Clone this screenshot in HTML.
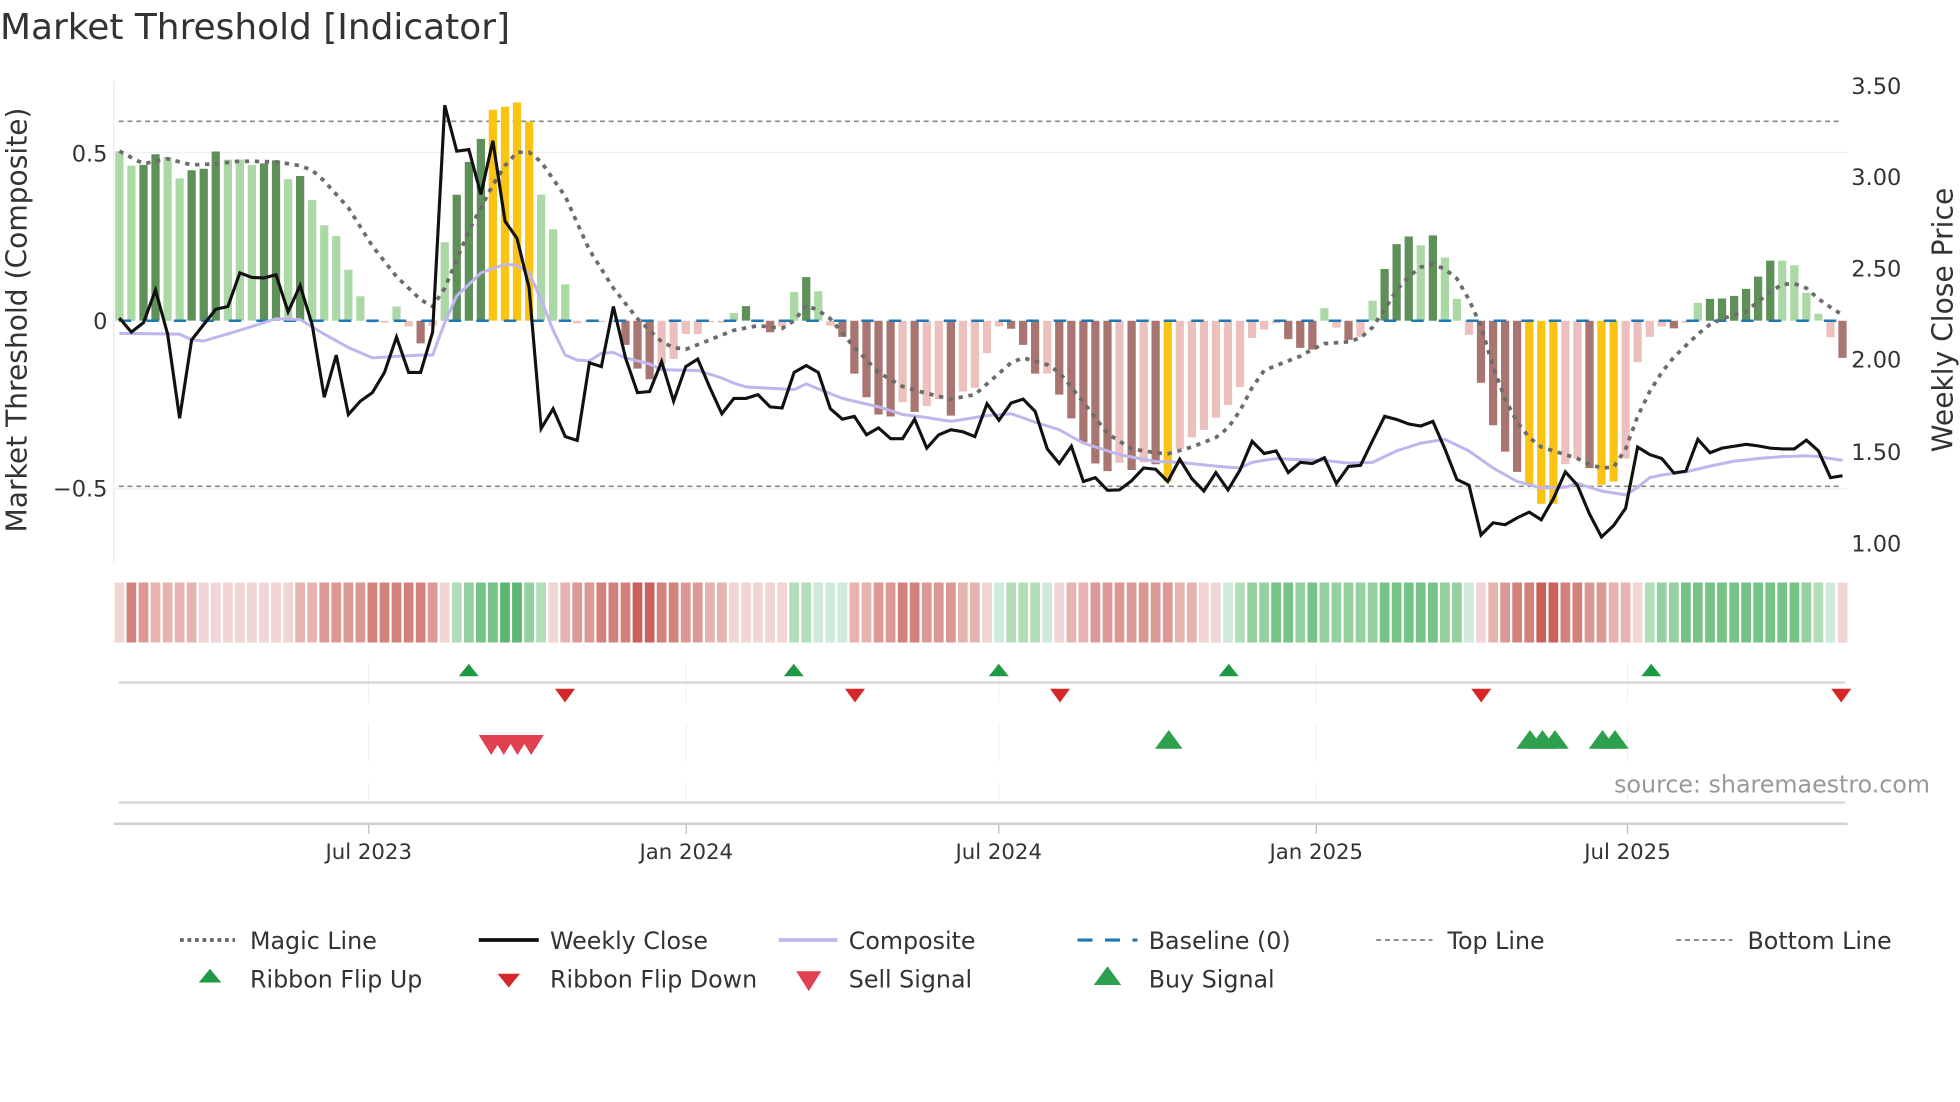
<!DOCTYPE html>
<html><head><meta charset="utf-8">
<style>
html,body{margin:0;padding:0;background:#fff;width:1960px;height:1102px;overflow:hidden}
svg{display:block}
text{font-family:"DejaVu Sans","Liberation Sans",sans-serif;fill:#333}
</style></head>
<body>
<svg id="s" width="1960" height="1102" viewBox="0 0 1568 881.6" xmlns="http://www.w3.org/2000/svg">
<rect width="1568" height="881.6" fill="#fff"/>
<text x="0" y="31" font-size="28.5" textLength="408" lengthAdjust="spacingAndGlyphs">Market Threshold [Indicator]</text>
<g id="g"></g>
<text x="86" y="129" font-size="18" text-anchor="end">0.5</text>
<text x="86" y="263" font-size="18" text-anchor="end">0</text>
<text x="86" y="397" font-size="18" text-anchor="end">−0.5</text>
<text transform="translate(21,256) rotate(-90)" font-size="22.5" text-anchor="middle">Market Threshold (Composite)</text>
<text x="1481" y="75" font-size="18">3.50</text>
<text x="1481" y="148" font-size="18">3.00</text>
<text x="1481" y="221" font-size="18">2.50</text>
<text x="1481" y="294" font-size="18">2.00</text>
<text x="1481" y="368" font-size="18">1.50</text>
<text x="1481" y="441" font-size="18">1.00</text>
<text transform="translate(1562,256) rotate(-90)" font-size="22.5" text-anchor="middle">Weekly Close Price</text>
<g font-size="17" text-anchor="middle">
<text x="295" y="687">Jul 2023</text>
<text x="549" y="687">Jan 2024</text>
<text x="799" y="687">Jul 2024</text>
<text x="1053" y="687">Jan 2025</text>
<text x="1302" y="687">Jul 2025</text>
</g>
<text x="1544" y="634" font-size="19" text-anchor="end" style="fill:#999">source: sharemaestro.com</text>
<g font-size="19">
<line x1="144" y1="752" x2="188" y2="752" stroke="#666" stroke-width="3" stroke-dasharray="3,3"/>
<text x="200" y="759">Magic Line</text>
<line x1="383" y1="752" x2="431" y2="752" stroke="#111" stroke-width="3"/>
<text x="440" y="759">Weekly Close</text>
<line x1="623" y1="752" x2="670" y2="752" stroke="#c0b8ee" stroke-width="3"/>
<text x="679" y="759">Composite</text>
<line x1="862" y1="752" x2="910" y2="752" stroke="#1f77b4" stroke-width="2.5" stroke-dasharray="12,10"/>
<text x="919" y="759">Baseline (0)</text>
<line x1="1101" y1="752" x2="1146" y2="752" stroke="#888" stroke-width="1.5" stroke-dasharray="4,3"/>
<text x="1158" y="759">Top Line</text>
<line x1="1341" y1="752" x2="1386" y2="752" stroke="#888" stroke-width="1.5" stroke-dasharray="4,3"/>
<text x="1398" y="759">Bottom Line</text>
<polygon points="168,775 159,786 177,786" fill="#1e9a45"/>
<text x="200" y="790">Ribbon Flip Up</text>
<polygon points="398,779 416,779 407,790" fill="#d62728"/>
<text x="440" y="790">Ribbon Flip Down</text>
<polygon points="637,777 657,777 647,793" fill="#e04050"/>
<text x="679" y="790">Sell Signal</text>
<polygon points="886,773 875,788 897,788" fill="#2ca04c"/>
<text x="919" y="790">Buy Signal</text>
</g>
</svg>
<script>
(function(){
var N=144, X0=95.5, DX=9.64;
function xk(k){return X0+k*DX;}
function yz(z){return 56+z*0.3062;}
var bars=[[212,'LG'],[250,'LG'],[248,'DG'],[220,'DG'],[228,'LG'],[283,'LG'],[262,'DG'],[258,'DG'],[213,'DG'],[234,'LG'],[234,'LG'],[248,'LG'],[244,'DG'],[236,'DG'],[285,'LG'],[277,'DG'],[340,'LG'],[406,'LG'],[434,'LG'],[522,'LG'],[591,'LG'],[660,'LP'],[660,'LP'],[618,'LG'],[670,'LP'],[714,'DR'],[668,'LP'],[450,'LG'],[326,'DG'],[240,'DG'],[180,'DG'],[104,'Y'],[96,'Y'],[85,'Y'],[135,'Y'],[326,'LG'],[416,'LG'],[560,'LG'],[662,'LP'],[656,'LP'],[656,'LP'],[656,'LP'],[718,'DR'],[780,'DR'],[808,'DR'],[770,'LP'],[755,'LP'],[690,'LP'],[690,'LP'],[656,'LP'],[660,'LP'],[635,'LG'],
[617,'DG'],[656,'LP'],[685,'DR'],[670,'LP'],[580,'LG'],[541,'DG'],[578,'LG'],[668,'LP'],[697,'DR'],[793,'DR'],[855,'DR'],[900,'DR'],[905,'DR'],[868,'LP'],[893,'DR'],[878,'LP'],[860,'LP'],[903,'DR'],[840,'LP'],[830,'LP'],[740,'LP'],[670,'LP'],[676,'DR'],[718,'DR'],[793,'DR'],[793,'LP'],[848,'DR'],[910,'DR'],[972,'DR'],[1028,'DR'],[1048,'DR'],[1026,'LP'],[1045,'DR'],[1025,'LP'],[1030,'DR'],[1075,'Y'],[990,'LP'],[960,'LP'],[940,'LP'],[908,'LP'],[875,'LP'],[828,'LP'],[700,'LP'],[678,'LP'],[662,'LP'],[703,'DR'],[726,'DR'],[730,'DR'],[622,'LG'],[673,'LP'],
[705,'DR'],[697,'LP'],[603,'LG'],[520,'DG'],[455,'DG'],[435,'DG'],[458,'LG'],[432,'DG'],[490,'LG'],[598,'LG'],[692,'LP'],[817,'DR'],[928,'DR'],[997,'DR'],[1050,'DR'],[1085,'Y'],[1133,'Y'],[1133,'Y'],[1030,'LP'],[1015,'LP'],[1040,'DR'],[1083,'Y'],[1075,'Y'],[1015,'LP'],[763,'LP'],[697,'LP'],[670,'LP'],[675,'DR'],[660,'LP'],[608,'LG'],[598,'DG'],[597,'DG'],[590,'DG'],[572,'DG'],[540,'DG'],[498,'DG'],[498,'LG'],[510,'LG'],[582,'LG'],[637,'LG'],[698,'LP'],[752,'DR']];
var col={LG:'#acd8a6',DG:'#5f905a',LP:'#ecc1bd',DR:'#a97571',Y:'#fbc412'};
var close=[648,685,660,575,690,910,705,665,625,618,530,542,543,535,632,563,665,855,745,900,865,843,790,698,790,790,685,92,212,208,325,185,395,440,570,937,885,958,968,765,775,618,752,843,840,762,865,775,755,830,898,858,858,848,880,883,790,772,790,885,912,905,953,935,963,963,912,988,953,940,945,958,872,915,870,860,892,990,1028,983,1075,1065,1098,1097,1073,1040,1043,1075,1017,1068,1100,1052,1097,1045,970,1002,995,1052,1025,1028,1013,1080,1036,1033,968,905,913,925,930,918,990,1070,1085,1215,1183,1188,1170,1155,1175,1120,1050,1085,1160,1220,1190,1145,985,1005,1015,1053,1048,965,1000,988,983,978,982,988,990,990,967,995,1065,1060];
function interp(o){var ks=Object.keys(o).map(Number).sort(function(a,b){return a-b});var r=[];for(var k=0;k<N;k++){var i=0;while(i<ks.length-1&&ks[i+1]<=k)i++;if(k<=ks[0]){r.push(o[ks[0]]);continue;}if(i>=ks.length-1){r.push(o[ks[ks.length-1]]);continue;}var a=ks[i],b=ks[i+1];r.push(o[a]+(o[b]-o[a])*(k-a)/(b-a));}return r;}
var comp=interp({0:688,5:690,6:705,7:708,10:680,13:650,15:652,17:690,19:725,21:752,23:748,25:745,26:745,27:660,28:590,30:530,32:508,33:510,34:530,35:600,36:680,37:745,38:758,39:760,40:740,41:738,42:752,44:768,45:783,48:785,50:805,51:818,52:828,56:835,57:820,58:833,60:858,63:880,65:900,67:908,69:918,72:903,74:898,76:920,78:940,80:975,83:1005,86:1023,88:1025,91:1035,93:1040,94:1025,96:1015,98:1018,100:1020,102:1027,104:1025,106:995,108:975,110:965,112:995,114:1040,116:1075,118:1092,120:1090,121:1080,123:1100,125:1110,126:1090,127:1065,128:1058,130:1050,132:1035,134:1022,136:1015,138:1010,140:1008,141:1010,143:1020});
var magic=interp({0:212,2:245,4:232,6:248,8:245,10:238,13:240,15:250,16:262,17:290,19:360,21:460,23:540,25:600,26:618,27:570,29:420,31:300,32:250,33:215,34:215,35:240,37:330,39:470,41:570,43:650,45:710,46:725,47:730,49:705,51:680,53:668,55:675,56:655,57:615,58:628,59:650,61:725,63:790,65:827,67:845,69:860,71:848,72:820,74:765,75:752,77:770,78:790,80:868,82:950,84:990,86:1000,87:1003,89:985,91:960,92:935,93:890,94:830,95:785,97:760,98:748,99:730,100:715,102:710,103:700,104:672,105:625,106:575,107:540,108:515,109:508,110:520,111:545,112:600,113:670,114:775,115:860,116:920,117:960,118:985,119:995,120:1005,121:1015,122:1030,123:1040,124:1038,125:990,126:905,127:840,128:790,129:750,130:720,131:690,132:665,133:650,134:640,135:630,136:605,137:580,138:560,139:558,140:570,141:598,142:620,143:640});
var rib='r1 r4 r3 r2 r2 r2 r2 r1 r1 r1 r1 r1 r1 r1 r1 r2 r2 r3 r3 r3 r3 r4 r4 r4 r4 r4 r3 r1 g2 g3 g4 g4 g5 g5 g3 g2 r1 r2 r3 r3 r4 r4 r4 r5 r5 r4 r4 r3 r3 r2 r2 r1 r1 r1 r1 r1 g2 g2 g1 g1 g1 r2 r2 r3 r3 r4 r4 r3 r3 r3 r2 r2 r1 g1 g2 g2 g2 g1 r1 r2 r2 r3 r3 r3 r3 r3 r3 r3 r2 r2 r1 r1 g1 g2 g3 g3 g4 g4 g3 g4 g3 g3 g3 g3 g3 g4 g4 g4 g4 g4 g3 g3 g1 r1 r2 r3 r4 r4 r5 r5 r4 r4 r3 r3 r2 r2 r1 g2 g3 g3 g4 g4 g4 g4 g4 g4 g4 g4 g4 g4 g3 g2 g1 r1'.split(' ');
var rc={r1:'#f0d5d4',r2:'#e6b3b1',r3:'#dc9894',r4:'#d3817c',r5:'#c8625b',g1:'#cfeadb',g2:'#b1ddb9',g3:'#94d0a0',g4:'#76c287',g5:'#5cb571'};
var s='';
s+='<line x1="91" y1="65" x2="91" y2="450" stroke="#e6e9ee" stroke-width="1"/>';
s+='<line x1="91" y1="122" x2="1478" y2="122" stroke="#eceff3" stroke-width="1"/>';
s+='<line x1="91" y1="391" x2="1478" y2="391" stroke="#eceff3" stroke-width="1"/>';
s+='<line x1="95" y1="97" x2="1474" y2="97" stroke="#888" stroke-width="1.3" stroke-dasharray="4,3"/>';
s+='<line x1="95" y1="389" x2="1474" y2="389" stroke="#888" stroke-width="1.3" stroke-dasharray="4,3"/>';
var y0=yz(655);
for(var k=0;k<N;k++){var b=bars[k];var yt=yz(b[0]);var top=Math.min(yt,y0),h=Math.abs(yt-y0);if(h<1.2)h=1.2;
s+='<rect x="'+(xk(k)-3.3).toFixed(1)+'" y="'+top.toFixed(1)+'" width="6.6" height="'+h.toFixed(1)+'" fill="'+col[b[1]]+'"/>';}
s+='<line x1="95" y1="'+y0+'" x2="1474" y2="'+y0+'" stroke="#1f77b4" stroke-width="2" stroke-dasharray="10,12"/>';
function pl(arr,st){var p=arr.map(function(z,k){return xk(k).toFixed(1)+','+yz(z).toFixed(1)}).join(' ');return '<polyline fill="none" points="'+p+'" '+st+'/>';}
s+=pl(magic,'stroke="#6c6c6c" stroke-width="3" stroke-dasharray="3.5,4.5"');
s+=pl(comp,'stroke="#bfb6ee" stroke-width="2.4"');
s+=pl(close,'stroke="#111" stroke-width="2.5" stroke-linejoin="miter"');
for(var k=0;k<N;k++){s+='<rect x="'+(xk(k)-3.9).toFixed(1)+'" y="466" width="7.8" height="48" fill="'+rc[rib[k]]+'"/>';}
var tx=[295,549,799,1053,1302];
tx.forEach(function(x){
s+='<line x1="'+x+'" y1="530" x2="'+x+'" y2="562" stroke="#eef0f4" stroke-width="1"/>';
s+='<line x1="'+x+'" y1="578" x2="'+x+'" y2="609" stroke="#eef0f4" stroke-width="1"/>';
s+='<line x1="'+x+'" y1="626" x2="'+x+'" y2="640" stroke="#eef0f4" stroke-width="1"/>';
s+='<line x1="'+x+'" y1="660" x2="'+x+'" y2="667" stroke="#bbb" stroke-width="1"/>';});
s+='<line x1="95" y1="546" x2="1476" y2="546" stroke="#d6d8dc" stroke-width="2"/>';
s+='<line x1="95" y1="642" x2="1476" y2="642" stroke="#d6d8dc" stroke-width="2"/>';
s+='<line x1="91" y1="659" x2="1478" y2="659" stroke="#cfd1d5" stroke-width="2"/>';
[375,635,799,983,1321].forEach(function(x){s+='<polygon points="'+x+',531 '+(x-8)+',541 '+(x+8)+',541" fill="#1e9a45"/>';});
[452,684,848,1185,1473].forEach(function(x){s+='<polygon points="'+(x-8)+',551 '+(x+8)+',551 '+x+',562" fill="#d62728"/>';});
[393,403,414,425].forEach(function(x){s+='<polygon points="'+(x-10)+',588 '+(x+10)+',588 '+x+',604" fill="#e04050"/>';});
[935,1224,1234,1244,1282,1292].forEach(function(x){s+='<polygon points="'+x+',584 '+(x-11)+',599 '+(x+11)+',599" fill="#2ca04c"/>';});
document.getElementById('g').innerHTML=s;
})();
</script>
</body></html>
